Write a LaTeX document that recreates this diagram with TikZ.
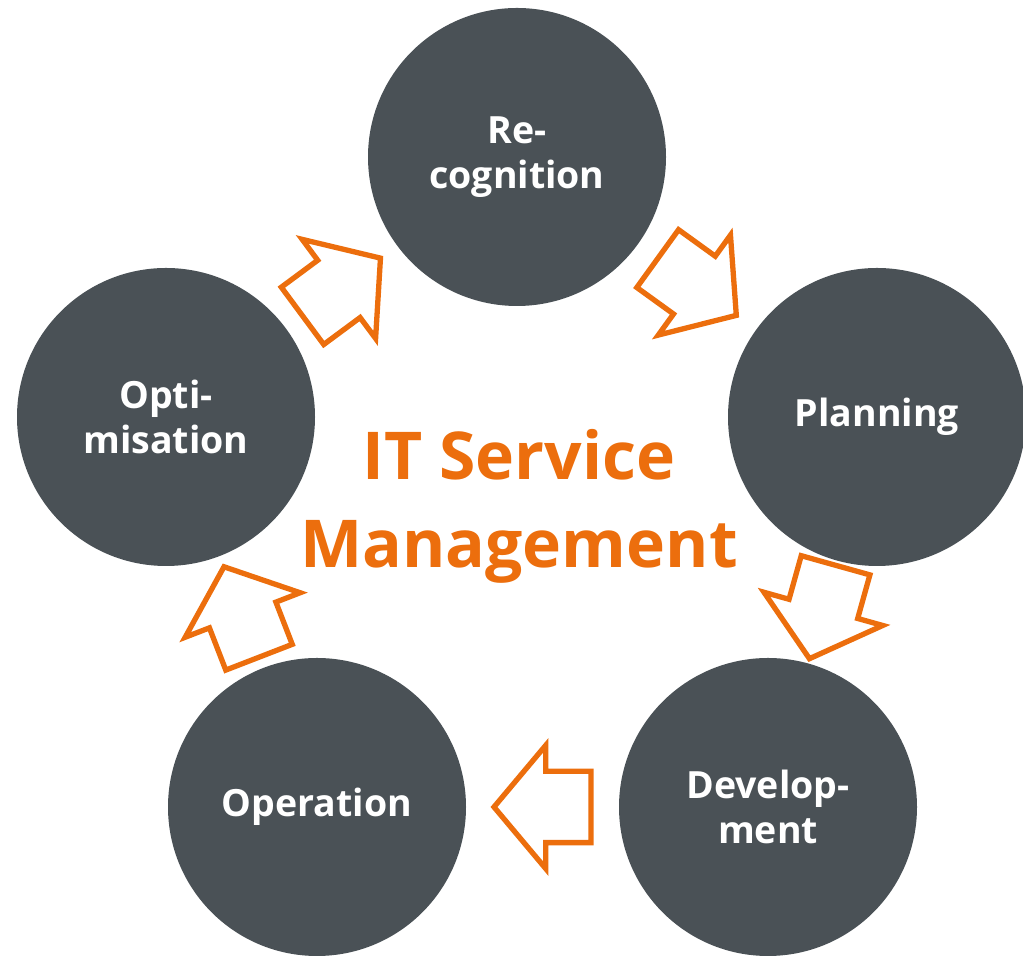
\documentclass[tikz,border=0pt]{standalone}
\usepackage{fontspec}
\setmainfont{Open Sans}
\usetikzlibrary{shapes.arrows,calc}
\definecolor{slate}{RGB}{74,81,86}
\definecolor{itorange}{RGB}{236,110,13}
\tikzset{
  phase/.style={circle, fill=slate, minimum size=298pt, inner sep=0pt, text=white,
    align=center, font=\fontsize{37.5}{45}\selectfont\bfseries},
  flow/.style={single arrow, draw=itorange, fill=white, line width=5.3pt,
    minimum height=97pt, inner xsep=0pt, inner ysep=33pt,
    single arrow head extend=26pt, single arrow tip angle=100,
    outer sep=0pt, sloped, allow upside down, pos=1, anchor=tail},
  title/.style={text=itorange, align=center, font=\fontsize{66}{88}\selectfont\bfseries}
}
\begin{document}
\begin{tikzpicture}[x=1pt,y=1pt]
\useasboundingbox (0,0) rectangle (1023,957);
\node[phase] (rec) at (517,800) {Re-\\cognition};
\node[phase] (pla) at (877,540) {Planning};
\node[phase] (dev) at (768,150) {Develop-\\ment};
\node[phase] (ope) at (317,150) {Operation};
\node[phase] (opt) at (166,540) {Opti-\\misation};
\node[title] (itsm) at (519,451) {IT Service\\Management};
\path (opt.center) -- ($(opt)!0.5!(rec)!48.5pt!(opt)$) node[flow] (a1) {};
\path (rec.center) -- ($(rec)!0.5!(pla)!48.5pt!(rec)$) node[flow] (a2) {};
\path (pla.center) -- ($(pla)!0.5!(dev)!48.5pt!(pla)$) node[flow] (a3) {};
\path (dev.center) -- ($(dev)!0.5!(ope)!48.5pt!(dev)$) node[flow] (a4) {};
\path (ope.center) -- ($(ope)!0.5!(opt)!48.5pt!(ope)$) node[flow] (a5) {};
\end{tikzpicture}
\end{document}
